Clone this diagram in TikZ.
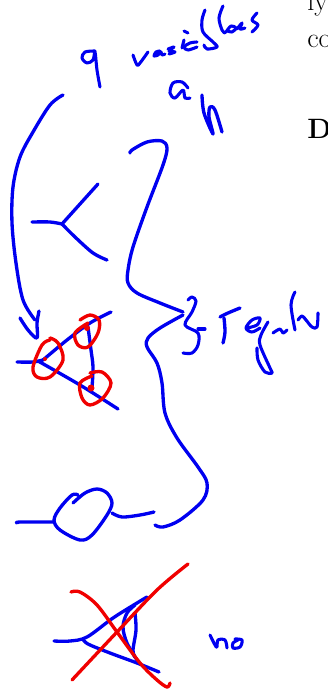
\documentclass[tikz,border=0pt]{standalone}
\usepackage{tikz}
\usetikzlibrary{positioning}
\definecolor{inkblue}{HTML}{0000F0}
\definecolor{inkred}{HTML}{F00000}
\tikzset{
  bluepen/.style={line width=2.5pt,inkblue,line cap=round,line join=round},
  redpen/.style={line width=2.5pt,inkred,line cap=round,line join=round},
  finepen/.style={line width=2.3pt,inkblue,line cap=round,line join=round},
  pagetext/.style={anchor=base west,inner sep=0pt,font=\fontsize{21}{25}\selectfont}
}
\newcommand{\ink}[2][bluepen]{\draw[#1] plot[smooth,tension=0.55] coordinates {#2};}
\begin{document}
\begin{tikzpicture}[x=0.75pt,y=-0.75pt]
\useasboundingbox (0,0) rectangle (328,697);
\clip (0,0) rectangle (328,697);
% ================= page text behind the ink =================
\node[pagetext] (pageA) at (307,10) {ly};
\node[pagetext] (pageB) at (307,47) {co};
\node[pagetext,font=\fontsize{21}{25}\selectfont\bfseries] (pageC) at (307,138) {D};
% ================= heading: q variables =================
\ink[finepen]{(95,51) (85,52) (82,58) (87,63) (93,60) (95,52) (97,70) (100,87)}
\ink[finepen]{(133,55) (137,65) (140,63) (148,52)}
\ink[finepen]{(160,51) (156,52) (154,56) (158,55) (161,52) (162,55) (165,54)}
\ink[finepen]{(168,49) (174,47) (169,51) (175,52) (169,54)}
\ink[finepen]{(182,48) (184,40)}
\ink[finepen]{(184,31) (188,33)}
\ink[finepen]{(197,42) (190,43) (184,47) (188,50) (197,47)}
\ink[finepen]{(205,10) (202,20) (203,32) (213,42) (217,47) (207,49) (204,45)}
\ink[finepen]{(223,6) (219,18) (222,30) (225,33)}
\ink[finepen]{(226,32) (231,26) (236,28) (232,32) (228,31)}
\ink[finepen]{(237,29) (242,23) (240,29) (245,28)}
\ink[finepen]{(257,13) (252,20) (258,25) (252,32)}
% ================= a_n =================
\ink[finepen]{(188,88) (182,82) (173,83) (170,93) (175,98) (183,90) (185,98) (190,98)}
\ink[bluepen]{(202,95) (204,113) (213,134) (209,117) (210,107) (215,110) (222,132)}
% ================= long arrow =================
\ink{(63,95) (50,105) (33,132) (20,157) (13,187) (12,223) (16,263) (23,300) (35,320)}
\ink{(20,318) (28,330) (37,338) (37,323) (39,311)}
% ================= three-leg vertex =================
\ink{(32,222) (50,222) (62,224)}
\ink{(62,224) (80,204) (98,184)}
\ink{(62,224) (75,237) (93,253) (107,260)}
% ================= big brace =================
\ink{(130,153) (132,150) (147,142) (162,141) (167,148) (163,165) (147,207) (133,247) (128,270) (128,283) (137,293) (160,303) (183,312)}
\ink{(183,315) (160,328) (148,338) (147,347) (157,363) (162,383) (165,413) (177,438) (198,467) (207,483) (203,500) (180,520) (163,527) (155,525)}
% ================= regular =================
\ink[finepen]{(188,300) (192,297) (196,301) (192,312) (185,325) (198,333) (198,345) (192,353) (183,353)}
\ink[finepen]{(198,329) (205,329)}
\ink[bluepen]{(220,317) (228,313) (240,308)}
\ink[bluepen]{(224,318) (225,332) (223,343)}
\ink[finepen]{(247,328) (257,325) (260,318) (252,320) (246,328) (252,332) (260,328)}
\ink[finepen]{(268,322) (261,335) (260,345) (270,368) (272,373) (265,372) (258,360) (257,348)}
\ink[finepen]{(273,333) (280,329) (283,333) (287,330)}
\ink[finepen]{(295,292) (291,305) (295,330)}
\ink[finepen]{(298,320) (302,316) (306,320) (312,327) (317,327) (318,313)}
% ================= triangle with circled vertices =================
\ink{(17,362) (33,362) (43,360)}
\ink{(43,360) (67,340) (90,323) (111,312)}
\ink{(38,361) (80,385) (118,409)}
\ink{(88,327) (91,350) (93,367) (92,388)}
\ink[redpen]{(50,340) (42,345) (33,367) (37,377) (50,377) (63,360) (58,343) (50,338)}
\ink[redpen]{(80,320) (90,315) (99,320) (98,333) (88,347) (78,345) (75,333) (88,323)}
\ink[redpen]{(90,373) (102,372) (111,383) (103,398) (90,405) (82,398) (80,383) (92,376)}
\foreach \p/\r in {(45,359)/2, (87,328)/3, (91,388)/3.5}{\fill[inkred] \p circle (\r);}
% ================= loop on a line =================
\ink{(17,523) (20,522) (53,522)}
\ink{(78,495) (72,495) (60,508) (54,520) (60,530) (80,540) (92,535) (107,515) (112,503) (107,493) (97,489) (85,493) (73,503)}
\ink{(112,513) (122,517) (140,515) (154,512)}
% ================= crossed-out graph =================
\ink{(54,641) (70,641) (87,637) (113,618) (137,603) (147,597)}
\ink{(83,639) (88,644) (110,653) (137,663) (159,672)}
\ink{(135,605) (127,613) (123,627) (127,643) (137,660)}
\ink{(135,613) (136,630) (133,650) (135,657)}
\ink[redpen]{(188,564) (157,590) (117,632) (72,680)}
\ink[redpen]{(71,592) (80,592) (97,605) (117,632) (140,663) (157,680) (167,687) (170,683)}
% ================= no =================
\ink[finepen]{(210,635) (215,645) (217,647) (218,640) (225,640) (227,648)}
\ink[finepen]{(238,640) (233,643) (233,648) (240,647) (242,640) (235,639)}
\end{tikzpicture}
\end{document}
